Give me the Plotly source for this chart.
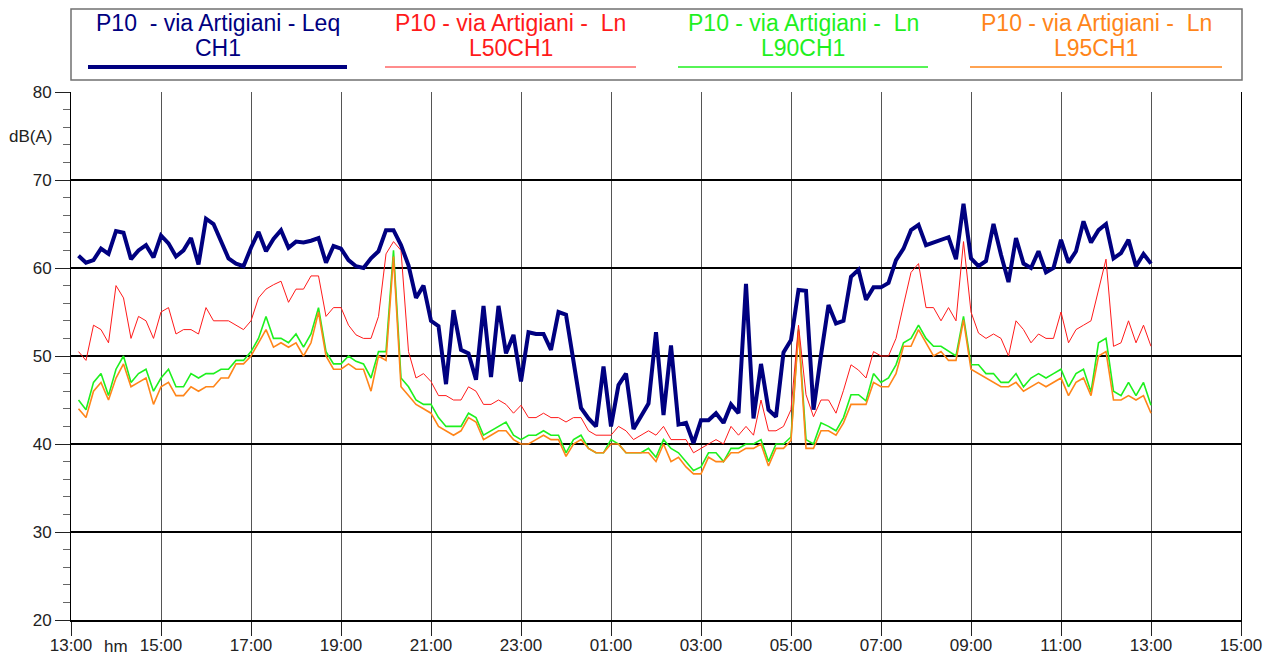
import pandas as pd
import plotly.graph_objects as go

# ---------------- data (10-minute values, 13:10 -> 13:00 next day) ----------------
times = pd.date_range("2000-01-01 13:10", periods=144, freq="10min")

leq = [61.4, 60.6, 60.9, 62.2, 61.6, 64.2, 64.0, 61.0, 62.0, 62.6, 61.2, 63.7, 62.8, 61.3, 62.0, 63.4,
       60.4, 65.6, 65.0, 63.0, 61.1, 60.5, 60.2, 62.3, 64.1, 61.9, 63.3, 64.3, 62.3, 63.0, 62.9, 63.1,
       63.4, 60.6, 62.5, 62.2, 60.9, 60.2,
       60.0, 61.1, 61.9, 64.3, 64.3, 62.6, 60.3, 56.6, 58.0, 54.0, 53.4, 46.8, 55.2, 50.7, 50.3, 47.3,
       55.7, 47.6, 55.7, 50.3, 52.4, 47.1, 52.7, 52.5, 52.5, 50.7, 55.0, 54.7, 49.2, 44.1, 42.9, 42.0,
       48.8, 42.0, 46.7, 48.0, 41.7,
       43.1, 44.6, 52.7, 43.3, 51.2, 42.2, 42.4, 40.1, 42.7, 42.7, 43.5, 42.4, 44.5, 43.5, 58.2, 42.9,
       49.1, 43.9, 43.1, 50.4, 51.8, 57.5, 57.4, 43.9, 50.1, 55.8, 53.7, 54.0, 59.0,
       59.8, 56.4, 57.8, 57.8, 58.3, 60.9, 62.2, 64.3, 64.9, 62.6, 62.9, 63.3, 63.5, 61.0, 67.3, 61.1,
       60.2, 60.8, 65.0, 61.5, 58.4, 63.4, 60.5, 60.0, 61.9, 59.5, 60.0, 63.2, 60.6, 61.9, 65.3, 62.9,
       64.3, 65.0, 61.1, 61.7, 63.2, 60.2, 61.6, 60.5]

l50 = [50.5, 49.5, 53.5, 53.0, 51.5, 58.0, 56.6, 52.0, 54.5, 54.0, 52.0, 55.0, 55.5, 52.5, 53.0, 53.0,
       52.5, 55.5, 54.0, 54.0, 54.0, 53.5, 53.0, 54.0, 56.6, 57.6, 58.1, 58.5, 56.1, 57.6, 57.6, 59.1,
       59.1, 54.5, 55.5, 55.5, 53.5, 52.4,
       52.0, 52.0, 54.5, 61.6, 63.0, 62.0, 50.5, 47.5, 48.0, 47.1, 45.5, 45.5, 45.0, 45.0, 46.5, 46.0,
       44.5, 44.5, 45.0, 44.5, 43.5, 44.4, 43.0, 43.0, 43.5, 43.0, 43.0, 42.5, 43.0, 43.0, 41.5, 41.0,
       41.0, 41.0, 42.0, 41.5, 40.5,
       41.0, 41.5, 41.0, 42.0, 40.5, 40.5, 40.5, 39.0, 39.5, 40.0, 40.5, 40.0, 42.0, 41.0, 42.0, 41.0,
       45.0, 41.5, 41.5, 42.0, 43.9, 53.5, 45.6, 43.1, 45.0, 45.0, 43.5, 46.1, 49.0,
       48.4, 47.5, 50.5, 50.0, 50.0, 52.0, 55.8, 59.5, 60.5, 55.5, 55.5, 54.0, 55.5, 54.0, 63.0, 55.0,
       52.6, 52.0, 52.5, 52.0, 50.0, 54.0, 53.0, 51.5, 52.5, 52.0, 52.0, 55.0, 51.5, 53.0, 53.5, 54.0,
       57.5, 61.0, 51.1, 51.5, 54.0, 51.5, 53.5, 51.1]

l90 = [45.0, 43.9, 47.0, 48.0, 45.5, 48.5, 50.0, 47.0, 48.0, 48.5, 46.0, 47.5, 48.5, 46.5, 46.5, 48.0,
       47.5, 48.0, 48.0, 48.5, 48.5, 49.5, 49.5, 50.5, 52.0, 54.5, 52.0, 52.0, 51.5, 52.5, 51.0, 52.5,
       55.5, 50.5, 49.1, 49.1, 50.0, 49.4,
       49.1, 47.5, 50.5, 50.5, 62.0, 47.5, 46.5, 45.0, 44.5, 44.5, 43.0, 42.0, 42.0, 42.0, 43.5, 43.0,
       41.0, 41.5, 42.0, 42.5, 41.0, 40.5, 41.0, 41.0, 41.5, 41.0, 41.0, 39.0, 40.5, 41.0, 39.5, 39.0,
       39.0, 40.5, 40.0, 39.0, 39.0,
       39.0, 39.5, 38.5, 40.5, 39.5, 39.0, 38.0, 37.0, 37.4, 39.0, 39.0, 38.0, 39.5, 39.5, 40.0, 40.0,
       40.5, 38.0, 40.0, 40.0, 40.8, 53.0, 40.5, 40.0, 42.4, 42.0, 41.5, 43.0, 45.6,
       45.6, 44.9, 48.0, 47.0, 47.5, 49.0, 51.5, 52.0, 53.5, 52.0, 51.1, 51.1, 50.5, 50.0, 54.5, 49.0,
       49.0, 48.0, 48.0, 47.0, 47.0, 48.0, 46.5, 47.5, 48.0, 47.5, 48.0, 48.5, 46.5, 48.0, 48.5, 45.9,
       51.5, 52.0, 46.0, 45.5, 47.0, 45.5, 47.0, 44.4]

l95 = [44.0, 43.0, 46.0, 47.0, 45.0, 47.5, 49.1, 46.5, 47.0, 47.5, 44.5, 46.5, 47.0, 45.5, 45.5, 46.5,
       46.0, 46.5, 46.5, 47.5, 47.5, 49.1, 49.1, 50.0, 51.5, 53.0, 51.0, 51.5, 51.0, 51.5, 50.0, 51.5,
       55.0, 50.0, 48.5, 48.5, 49.1, 48.5,
       48.5, 46.0, 50.0, 49.5, 61.3, 46.5, 45.5, 44.5, 44.0, 43.5, 42.0, 41.5, 41.0, 41.5, 43.0, 42.5,
       40.5, 41.0, 41.5, 41.5, 40.5, 40.0, 40.0, 40.5, 41.0, 40.5, 40.5, 38.6, 40.0, 40.5, 39.5, 39.0,
       39.0, 40.0, 40.0, 39.0, 39.0,
       39.0, 39.0, 38.0, 40.0, 38.0, 38.5, 37.4, 36.6, 36.6, 38.5, 38.0, 38.0, 39.0, 39.0, 39.5, 39.5,
       40.0, 37.5, 39.5, 39.5, 40.4, 52.8, 39.5, 39.5, 41.5, 41.5, 41.0, 42.4, 44.5,
       44.5, 44.5, 47.0, 46.5, 46.5, 48.0, 51.1, 51.1, 53.0, 51.5, 50.0, 50.5, 49.5, 49.5, 54.1, 48.5,
       48.0, 47.5, 47.0, 46.5, 46.5, 47.0, 46.0, 46.5, 47.0, 46.5, 47.0, 47.5, 45.5, 47.0, 47.5, 45.5,
       50.0, 50.5, 45.0, 45.0, 45.5, 45.0, 45.5, 43.5]

series_names = ["P10\u00a0\u00a0- via Artigiani - Leq", "P10 - via Artigiani -\u00a0\u00a0Ln",
                "P10 - via Artigiani -\u00a0\u00a0Ln", "P10 - via Artigiani -\u00a0\u00a0Ln"]
series_sub = ["CH1", "L50CH1", "L90CH1", "L95CH1"]
colors = ["#000080", "#ff1a1a", "#1ef01e", "#ff8519"]

FONT = "Liberation Sans, Arial, sans-serif"
TICK_SIZE = 17
LEG_SIZE = 23

fig = go.Figure()
# drawing order: L90, L95, L50, Leq on top
fig.add_trace(go.Scatter(x=times, y=l90, mode="lines", line=dict(color=colors[2], width=1.6), name=series_sub[2]))
fig.add_trace(go.Scatter(x=times, y=l95, mode="lines", line=dict(color=colors[3], width=1.6), name=series_sub[3]))
fig.add_trace(go.Scatter(x=times, y=l50, mode="lines", line=dict(color=colors[1], width=1), name=series_sub[1]))
fig.add_trace(go.Scatter(x=times, y=leq, mode="lines", line=dict(color=colors[0], width=4), name=series_sub[0]))

# page is offset by the default 8px body margin -> compensate
OFF = 8
W, H = 1280 - OFF, 659 - OFF
# plot area in page pixel coordinates
PL, PR, PT, PB = 71, 1241, 92, 620
ML, MR, MT, MB = PL - OFF, 1280 - PR - OFF * 0, PT - OFF, 659 - PB
MR = (W + OFF) - PR
MB = (H + OFF) - PB
PW = PR - PL
PH = PB - PT

def px(xp):
    return (xp - PL) / PW

def py(yp):
    return (PB - yp) / PH

shapes = []
annotations = []
# legend box
shapes.append(dict(type="rect", xref="paper", yref="paper", x0=px(71), x1=px(1242), y0=py(80), y1=py(9),
                   line=dict(color="#707070", width=1.5), fillcolor="rgba(0,0,0,0)", layer="above"))
leg_lines = [(88, 347, 4), (385, 636, 1), (678, 928, 1.6), (970, 1222, 1.6)]
for i, (a, b, w) in enumerate(leg_lines):
    c = (a + b) / 2
    shapes.append(dict(type="line", xref="paper", yref="paper", x0=px(a), x1=px(b), y0=py(67), y1=py(67),
                       line=dict(color=colors[i], width=w)))
    annotations.append(dict(xref="paper", yref="paper", x=px(c), y=py(23), text=series_names[i],
                            showarrow=False, xanchor="center", yanchor="middle",
                            font=dict(family=FONT, size=LEG_SIZE, color=colors[i])))
    annotations.append(dict(xref="paper", yref="paper", x=px(c), y=py(48), text=series_sub[i],
                            showarrow=False, xanchor="center", yanchor="middle",
                            font=dict(family=FONT, size=LEG_SIZE, color=colors[i])))

annotations.append(dict(xref="x", yref="paper", x="2000-01-01 14:00", y=0, yshift=-26, text="hm",
                        showarrow=False, xanchor="center", yanchor="middle",
                        font=dict(family=FONT, size=TICK_SIZE, color="#222")))
annotations.append(dict(xref="paper", yref="y", x=0, xshift=-41, y=74.9, text="dB(A)",
                        showarrow=False, xanchor="center", yanchor="middle",
                        font=dict(family=FONT, size=TICK_SIZE, color="#222")))

fig.update_layout(
    width=W, height=H,
    margin=dict(l=ML, r=MR, t=MT, b=MB, pad=0, autoexpand=False),
    paper_bgcolor="white", plot_bgcolor="white",
    showlegend=False,
    font=dict(family=FONT, size=TICK_SIZE, color="#222"),
    shapes=shapes, annotations=annotations,
    xaxis=dict(type="date", range=["2000-01-01 13:00", "2000-01-02 15:00"],
               tick0="2000-01-01 13:00", dtick=7200000, tickformat="%H:%M",
               ticks="outside", ticklen=14, tickcolor="#222", tickwidth=1,
               ticklabelstandoff=-5,
               showgrid=True, gridcolor="#555", gridwidth=1,
               showline=True, linecolor="black", linewidth=2, mirror=False,
               zeroline=False, automargin=False,
               tickfont=dict(family=FONT, size=TICK_SIZE, color="#222")),
    yaxis=dict(range=[20, 80], dtick=10, tick0=20,
               ticks="outside", ticklen=15, tickcolor="#222", tickwidth=1,
               showgrid=True, gridcolor="black", gridwidth=2,
               showline=True, linecolor="black", linewidth=1, mirror=True,
               zeroline=False, automargin=False,
               minor=dict(dtick=2, ticks="outside", ticklen=7, tickcolor="#666", showgrid=False),
               tickfont=dict(family=FONT, size=TICK_SIZE, color="#222")),
)

fig.write_html("out.html")
